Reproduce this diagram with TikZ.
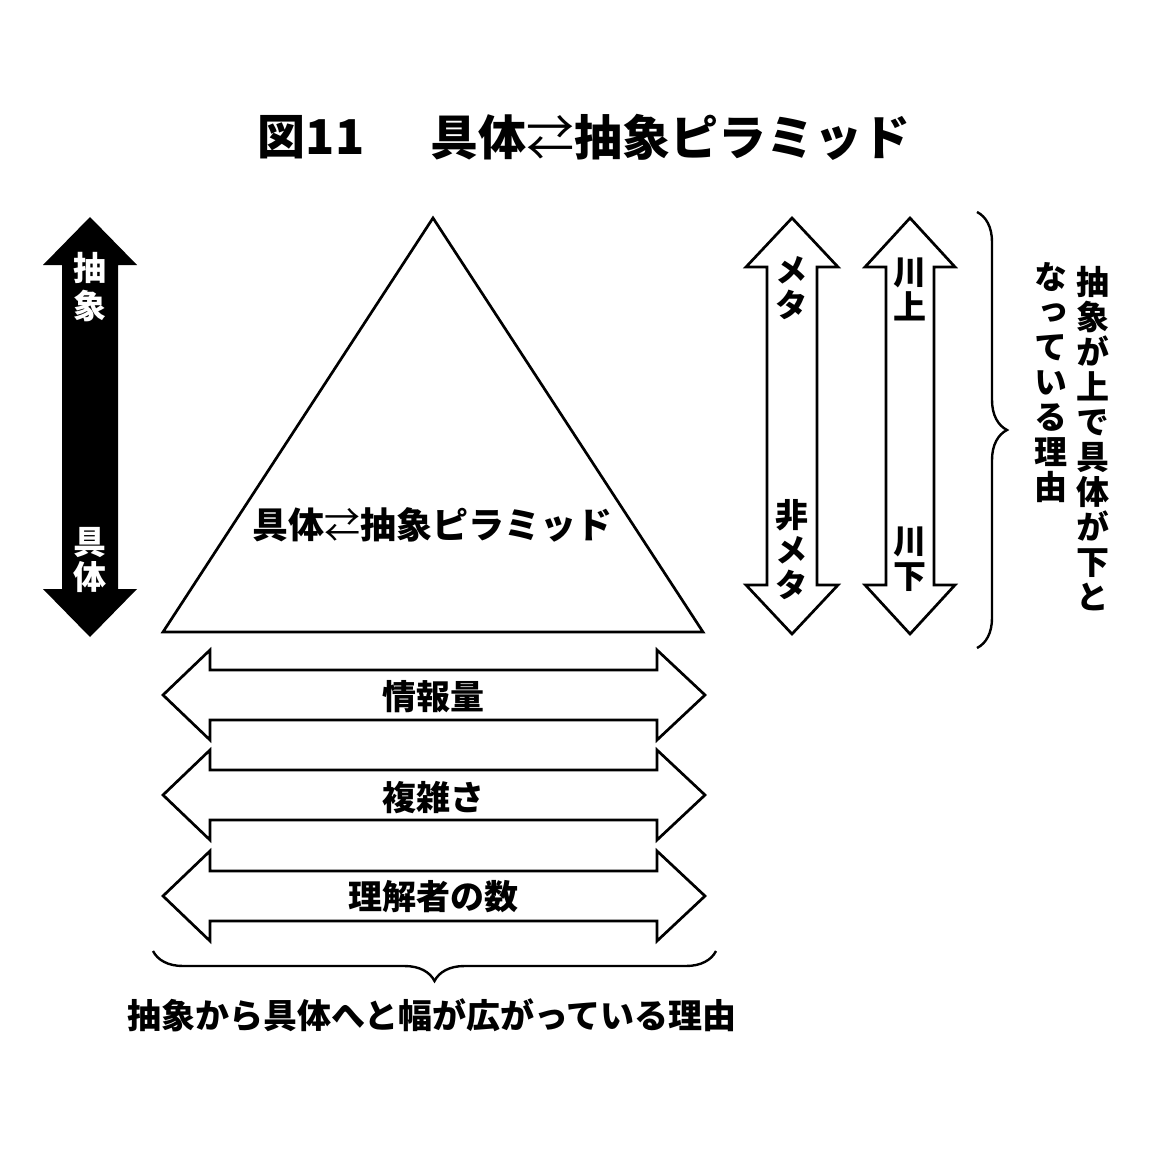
\documentclass[tikz,border=0pt]{standalone}
\usepackage{fontspec}
\newfontfamily\jp{Noto Sans CJK JP}
\newfontfamily\jpv[RawFeature=+vert]{Noto Sans CJK JP}
\newcommand\lrarr{{\mdseries ⇄}}
\usetikzlibrary{decorations.pathreplacing}
\begin{document}
\begin{tikzpicture}[x=0.5pt,y=-0.5pt,
  outl/.style={draw=black,line width=1.35pt,fill=white,line join=miter},
  solidarrow/.style={fill=black},
  titlefont/.style={font=\jp\bfseries\fontsize{24}{28}\selectfont,inner sep=0},
  lbl/.style={font=\jp\bfseries\fontsize{17}{20}\selectfont,inner sep=0},
  vlbl/.style={font=\jpv\bfseries\fontsize{16.5}{17.5}\selectfont,align=center,inner sep=0},
  wlbl/.style={vlbl,text=white},
  brc/.style={decorate,decoration={brace,amplitude=15pt},line width=1.2pt}]
\useasboundingbox (0,0) rectangle (1150,1150);
\fill[white] (0,0) rectangle (1150,1150);

% title
\node[titlefont] (t1) at (311,137) {図11};
\node[titlefont] (t2) at (670,137) {具体\lrarr 抽象ピラミッド};

% black vertical arrow
\fill[solidarrow] (90,217) -- (137,265) -- (118,265) -- (118,589) -- (137,589) -- (90,637)
  -- (43,589) -- (62,589) -- (62,265) -- (43,265) -- cycle;
\node[wlbl,font=\jpv\bfseries\fontsize{16.5}{19}\selectfont] (abs) at (90,287) {抽\\象};
\node[wlbl] (con) at (90,560) {具\\体};

% pyramid
\draw[outl] (433,218) -- (703,632) -- (163,632) -- cycle;
\node[lbl,font=\jp\bfseries\fontsize{18}{20}\selectfont] (pyr) at (432,525) {具体\lrarr 抽象ピラミッド};

% right outline arrows
\draw[outl] (792,218) -- (838,267) -- (817,267) -- (817,585) -- (838,585) -- (792,634)
  -- (746,585) -- (767,585) -- (767,267) -- (746,267) -- cycle;
\draw[outl] (910,218) -- (955,267) -- (934,267) -- (934,585) -- (955,585) -- (910,634)
  -- (865,585) -- (886,585) -- (886,267) -- (865,267) -- cycle;
\node[vlbl] (meta) at (792,288) {メ\\タ};
\node[vlbl] (nmeta) at (792,550) {非\\メ\\タ};
\node[vlbl] (up) at (910,289) {川\\上};
\node[vlbl] (down) at (910,559) {川\\下};

% right brace and text
\draw[brc] (977,212) -- (977,648);
\node[vlbl] (why1) at (1093,439) {抽\\象\\が\\上\\で\\具\\体\\が\\下\\と};
\node[vlbl] (why2) at (1051,383) {な\\っ\\て\\い\\る\\理\\由};

% horizontal outline arrows
\foreach \c in {695,795,896}{
  \draw[outl] (163,\c) -- (210,{\c-45}) -- (210,{\c-25}) -- (657,{\c-25}) -- (657,{\c-45})
    -- (705,\c) -- (657,{\c+45}) -- (657,{\c+25}) -- (210,{\c+25}) -- (210,{\c+45}) -- cycle;
}
\node[lbl] (info) at (433,697) {情報量};
\node[lbl] (cplx) at (433,798) {複雑さ};
\node[lbl] (num) at (433,897) {理解者の数};

% bottom brace and caption
\draw[brc,decoration={mirror}] (153,951) -- (716,951);
\node[lbl] (cap) at (432,1015) {抽象から具体へと幅が広がっている理由};
\end{tikzpicture}
\end{document}
